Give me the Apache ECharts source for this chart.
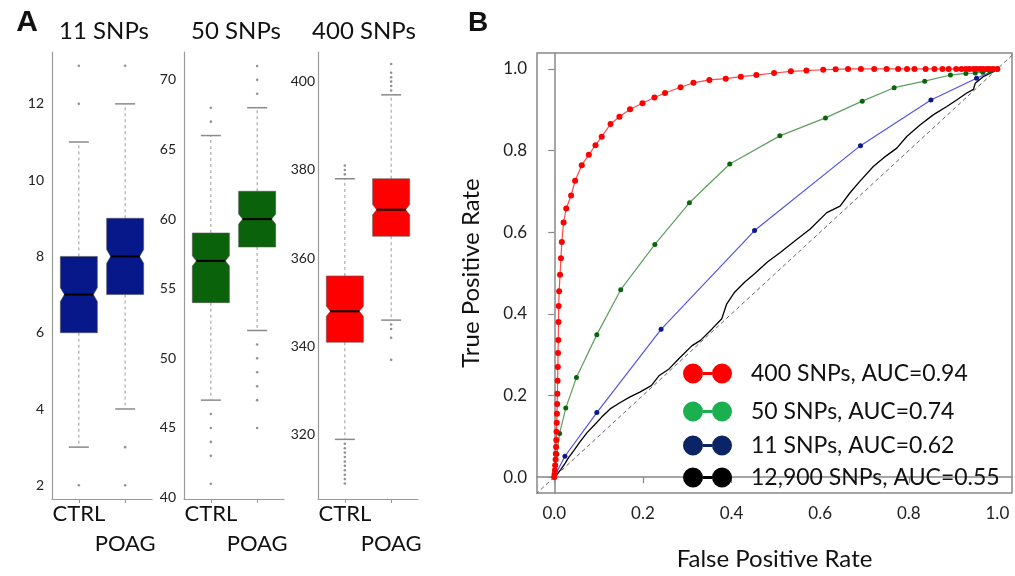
<!DOCTYPE html>
<html><head><meta charset="utf-8">
<script src="https://cdn.jsdelivr.net/npm/echarts@6/dist/echarts.min.js"></script>
<style>html,body{margin:0;padding:0;background:#fff}#c{width:1015px;height:576px}</style>
</head><body><div id="c"></div>
<script>
// ---------- Panel A data ----------
const groups = ['CTRL', 'POAG'];
const panelTitles = ['11 SNPs', '50 SNPs', '400 SNPs'];
// [low whisker, Q1, median, Q3, high whisker]
const box11 = [[3, 6, 7, 8, 11], [4, 7, 8, 9, 12]];
const box50 = [[47, 54, 57, 59, 66], [52, 58, 60, 62, 68]];
const box400 = [[319, 341, 348, 356, 378], [346, 365, 371, 378, 397]];
const notch11 = [0.18, 0.18];
const notch50 = [0.36, 0.36];
const notch400 = [1.15, 1.15];
const out11 = [[2, 12, 13], [2, 3, 13]];
const out50 = [[41, 43, 44, 45, 46, 67, 68], [45, 47, 48, 49, 50, 51, 69, 70, 71]];
const out400 = [[309, 310, 311, 312, 313, 314, 315, 316, 317, 318, 379, 380, 381], [337, 342, 344, 345, 398, 399, 400, 401, 402, 404]];
const yTicks11 = [2, 4, 6, 8, 10, 12];
const yTicks50 = [40, 45, 50, 55, 60, 65, 70];
const yTicks400 = [320, 340, 360, 380, 400];

// ---------- Panel B data ----------
const rocTicks = [0, 0.2, 0.4, 0.6, 0.8, 1.0];
const legendNames = ['400 SNPs, AUC=0.94', '50 SNPs, AUC=0.74', '11 SNPs, AUC=0.62', '12,900 SNPs, AUC=0.55'];
const roc400 = [[0,0],[0.0007,0.007],[0.0015,0.017],[0.002,0.029],[0.003,0.043],[0.0035,0.057],[0.004,0.074],[0.0045,0.091],[0.005,0.111],[0.0055,0.133],[0.006,0.155],[0.0065,0.179],[0.007,0.204],[0.0075,0.236],[0.008,0.270],[0.0085,0.304],[0.009,0.336],[0.0095,0.380],[0.010,0.419],[0.011,0.455],[0.013,0.496],[0.015,0.536],[0.017,0.576],[0.021,0.624],[0.027,0.658],[0.038,0.690],[0.047,0.726],[0.062,0.764],[0.078,0.790],[0.093,0.813],[0.107,0.834],[0.127,0.865],[0.147,0.883],[0.171,0.901],[0.199,0.916],[0.226,0.930],[0.250,0.941],[0.285,0.955],[0.314,0.966],[0.350,0.973],[0.387,0.976],[0.421,0.981],[0.456,0.985],[0.496,0.990],[0.534,0.994],[0.569,0.996],[0.607,0.998],[0.635,0.999],[0.663,1],[0.692,1],[0.722,1],[0.750,1],[0.776,1],[0.796,1],[0.813,1],[0.838,1],[0.858,1],[0.876,1],[0.890,1],[0.907,1],[0.919,1],[0.929,1],[0.937,1],[0.946,1],[0.953,1],[0.961,1],[0.968,1],[0.976,1],[0.983,1],[0.991,1],[1,1]];
const roc50 = [[0,0],[0.006,0.056],[0.012,0.107],[0.026,0.169],[0.050,0.244],[0.096,0.349],[0.150,0.459],[0.227,0.570],[0.305,0.672],[0.396,0.767],[0.509,0.836],[0.612,0.880],[0.695,0.921],[0.767,0.954],[0.836,0.970],[0.894,0.985],[0.929,0.989],[0.950,0.990],[0.967,0.992],[0.983,0.995],[1,1]];
const roc11 = [[0,0],[0.024,0.051],[0.096,0.158],[0.241,0.362],[0.452,0.604],[0.691,0.812],[0.850,0.924],[0.953,0.977],[1,1]];
const roc12900 = [[0,0],[0.007,0.008],[0.015,0.019],[0.024,0.033],[0.033,0.049],[0.044,0.065],[0.058,0.086],[0.074,0.109],[0.090,0.127],[0.107,0.147],[0.126,0.167],[0.148,0.182],[0.170,0.196],[0.193,0.208],[0.219,0.224],[0.237,0.249],[0.259,0.265],[0.281,0.290],[0.311,0.322],[0.330,0.335],[0.356,0.363],[0.378,0.388],[0.389,0.424],[0.407,0.453],[0.430,0.478],[0.452,0.498],[0.481,0.527],[0.510,0.550],[0.547,0.582],[0.577,0.607],[0.615,0.648],[0.645,0.664],[0.667,0.696],[0.690,0.725],[0.720,0.761],[0.743,0.782],[0.773,0.806],[0.796,0.835],[0.826,0.863],[0.856,0.888],[0.886,0.908],[0.908,0.924],[0.931,0.941],[0.946,0.950],[0.950,0.965],[0.968,0.981],[0.991,0.993],[1,1]];
const diagonal = [[-0.1,-0.1],[1.1,1.1]];

// ---------- build ----------
const FONT = 'Lato';
const boxFills = ['#07198a', '#0a620a', '#ff0000'];
const panels = [
  {box: box11, notch: notch11, out: out11, ticks: yTicks11, min: 1.64, max: 13.36, left: 52, labelMargin: 8},
  {box: box50, notch: notch50, out: out50, ticks: yTicks50, min: 39.9, max: 72, left: 184, labelMargin: 8},
  {box: box400, notch: notch400, out: out400, ticks: yTicks400, min: 305.5, max: 406.7, left: 318, labelMargin: 3}
];

function makeRender(fill) {
  return function (params, api) {
    const x = api.value(0);
    const lo = api.value(1), q1 = api.value(2), md = api.value(3), q3 = api.value(4), hi = api.value(5), n = api.value(6);
    const c = v => api.coord([x, v]);
    const cx = c(md)[0];
    const half = api.size([0.8, 0])[0] / 2;
    const inset = 4, cap = 10;
    const yLo = c(lo)[1], yQ1 = c(q1)[1], yMd = c(md)[1], yQ3 = c(q3)[1], yHi = c(hi)[1];
    const yNu = c(md + n)[1], yNd = c(md - n)[1];
    const L = cx - half, R = cx + half;
    const dash = {stroke: '#9a9a9a', lineWidth: 1, lineDash: [3, 3]};
    const capStyle = {stroke: '#8a8a8a', lineWidth: 1.5};
    return {type: 'group', children: [
      {type: 'line', shape: {x1: cx, y1: yQ3, x2: cx, y2: yHi}, style: dash},
      {type: 'line', shape: {x1: cx, y1: yQ1, x2: cx, y2: yLo}, style: dash},
      {type: 'line', shape: {x1: cx - cap, y1: yHi, x2: cx + cap, y2: yHi}, style: capStyle},
      {type: 'line', shape: {x1: cx - cap, y1: yLo, x2: cx + cap, y2: yLo}, style: capStyle},
      {type: 'polygon', shape: {points: [[L, yQ3], [R, yQ3], [R, yNu], [R - inset, yMd], [R, yNd], [R, yQ1], [L, yQ1], [L, yNd], [L + inset, yMd], [L, yNu]]},
        style: {fill: fill, stroke: '#555', lineWidth: 0.6}},
      {type: 'line', shape: {x1: L + inset, y1: yMd, x2: R - inset, y2: yMd}, style: {stroke: '#000', lineWidth: 2}}
    ]};
  };
}

const grids = [], xAxes = [], yAxes = [], series = [];
const catLabel = {fontSize: 22, fontFamily: FONT, color: '#111', hideOverlap: false};
panels.forEach((p, i) => {
  grids.push({left: p.left, top: 52, width: 100, height: 447});
  yAxes.push({
    gridIndex: i, type: 'value', min: p.min, max: p.max,
    axisLine: {show: true, lineStyle: {color: '#999', width: 1.2}},
    axisTick: {show: false},
    axisLabel: {customValues: p.ticks, margin: p.labelMargin, fontSize: 14, fontFamily: FONT, color: '#222'},
    splitLine: {show: false}
  });
  series.push({
    type: 'custom', xAxisIndex: 2 * i, yAxisIndex: i, renderItem: makeRender(boxFills[i]), silent: true,
    data: p.box.map((b, k) => [k + 1].concat(b, [p.notch[k]]))
  });
  series.push({
    type: 'scatter', xAxisIndex: 2 * i, yAxisIndex: i, symbolSize: 2.6, silent: true,
    itemStyle: {color: '#777'},
    data: p.out.flatMap((arr, k) => arr.map(v => [k + 1, v]))
  });
});
panels.forEach((p, i) => {
  // CTRL label axis
  xAxes.push({
    gridIndex: i, type: 'value', min: 0.42, max: 2.58, position: 'bottom',
    axisLine: {show: true, lineStyle: {color: '#999', width: 1.2}},
    axisTick: {show: true, customValues: [1, 2], length: 4, lineStyle: {color: '#999'}},
    axisLabel: Object.assign({customValues: [1], margin: 4, formatter: () => groups[0]}, catLabel),
    splitLine: {show: false}
  });
  // POAG label axis (staggered below)
  xAxes.push({
    gridIndex: i, type: 'value', min: 0.42, max: 2.58, position: 'bottom', offset: 32,
    axisLine: {show: false}, axisTick: {show: false},
    axisLabel: Object.assign({customValues: [2], margin: 2, formatter: () => groups[1]}, catLabel),
    splitLine: {show: false}
  });
});

// Panel B
grids.push({left: 537, top: 53, right: 3, bottom: 82, show: true, borderColor: '#888', borderWidth: 1.5});
const axisTitleStyle = {fontSize: 24, fontFamily: FONT, color: '#111'};
xAxes.push({
  gridIndex: 3, type: 'value', min: -0.039, max: 1.033,
  axisLine: {show: true, lineStyle: {color: '#888', width: 1.5}},
  axisTick: {show: true, customValues: rocTicks, length: 6, lineStyle: {color: '#888', width: 1.2}},
  axisLabel: {customValues: rocTicks, formatter: v => v.toFixed(1), fontSize: 17, margin: 12, fontFamily: FONT, color: '#222'},
  splitLine: {show: false},
  name: 'False Positive Rate', nameLocation: 'middle', nameGap: 54, nameTextStyle: axisTitleStyle
});
yAxes.push({
  gridIndex: 3, type: 'value', min: -0.039, max: 1.039,
  axisLine: {show: true, lineStyle: {color: '#888', width: 1.5}},
  axisTick: {show: true, customValues: rocTicks, length: 6, lineStyle: {color: '#888', width: 1.2}},
  axisLabel: {customValues: rocTicks, formatter: v => v.toFixed(1), fontSize: 17, margin: 10, fontFamily: FONT, color: '#222'},
  splitLine: {show: false},
  name: 'True Positive Rate', nameLocation: 'middle', nameGap: 54, nameTextStyle: axisTitleStyle
});

const bx = 6, by = 3;
series.push({type: 'line', xAxisIndex: bx, yAxisIndex: by, data: diagonal, symbol: 'none', silent: true, clip: true,
  lineStyle: {color: '#666', width: 1, type: [4, 3]}});
series.push({name: legendNames[3], type: 'line', xAxisIndex: bx, yAxisIndex: by, data: roc12900, symbol: 'none',
  lineStyle: {color: '#000', width: 1.3}, itemStyle: {color: '#000'}});
series.push({name: legendNames[2], type: 'line', xAxisIndex: bx, yAxisIndex: by, data: roc11, symbol: 'circle', symbolSize: 5,
  lineStyle: {color: '#5353e6', width: 1.2}, itemStyle: {color: '#0a1a8a'}});
series.push({name: legendNames[1], type: 'line', xAxisIndex: bx, yAxisIndex: by, data: roc50, symbol: 'circle', symbolSize: 5,
  lineStyle: {color: '#5f9e5f', width: 1.2}, itemStyle: {color: '#0b640b'}});
series.push({name: legendNames[0], type: 'line', xAxisIndex: bx, yAxisIndex: by, data: roc400, symbol: 'circle', symbolSize: 6,
  lineStyle: {color: '#ff4a4a', width: 1.2}, itemStyle: {color: '#ff0000'}});

const ICON = 'path://M0,10A10,10,0,1,0,20,10A10,10,0,1,0,0,10Z M29,10A10,10,0,1,0,49,10A10,10,0,1,0,29,10Z M20,8.6L29,8.6L29,11.4L20,11.4Z';
const legendColors = ['#ff0000', '#1bb04f', '#0b2466', '#000000'];
const legendTops = [362, 400, 434, 466];
const legends = legendNames.map((name, i) => ({
  data: [{name: name, icon: ICON, itemStyle: {color: legendColors[i]}}],
  left: 683, top: legendTops[i], orient: 'vertical', padding: 0,
  itemWidth: 49, itemHeight: 20, selectedMode: false,
  textStyle: {fontSize: 23, fontFamily: FONT, color: '#111', padding: [0, 0, 0, 14]}
}));

const titleTexts = [
  {text: 'A', x: 27, y: 23, font: 'bold 30px "Liberation Sans"'},
  {text: 'B', x: 478, y: 23, font: 'bold 28px "Liberation Sans"'},
  {text: panelTitles[0], x: 104, y: 31, font: '24px ' + FONT},
  {text: panelTitles[1], x: 236, y: 31, font: '24px ' + FONT},
  {text: panelTitles[2], x: 364, y: 31, font: '24px ' + FONT}
];

const chart = echarts.init(document.getElementById('c'), null, {renderer: 'canvas'});
chart.setOption({
  animation: false,
  backgroundColor: '#fff',
  grid: grids, xAxis: xAxes, yAxis: yAxes, series: series, legend: legends,
  graphic: titleTexts.map(t => ({type: 'text', x: t.x, y: t.y,
    style: {text: t.text, font: t.font, fill: '#111', textAlign: 'center', textVerticalAlign: 'middle'}}))
});
</script></body></html>
